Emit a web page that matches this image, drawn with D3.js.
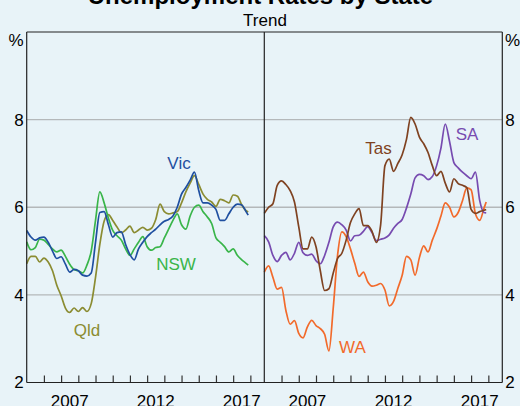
<!DOCTYPE html>
<html>
<head>
<meta charset="utf-8">
<script src="https://cdn.jsdelivr.net/npm/d3@7"></script>
<style>
  html, body { margin: 0; padding: 0; background: #e8f3f8; }
  svg { display: block; font-family: Arial, "Liberation Sans", sans-serif; }
</style>
</head>
<body>
<svg id="chart" width="520" height="406"></svg>
<script>
// quarterly observations (decimal years), trend unemployment rate, %
const dates = [
  2005.0, 2005.25, 2005.5, 2005.75, 2006.0, 2006.25, 2006.5, 2006.75,
  2007.0, 2007.25, 2007.5, 2007.75, 2008.0, 2008.25, 2008.5, 2008.75,
  2009.0, 2009.25, 2009.5, 2009.75, 2010.0, 2010.25, 2010.5, 2010.75,
  2011.0, 2011.25, 2011.5, 2011.75, 2012.0, 2012.25, 2012.5, 2012.75,
  2013.0, 2013.25, 2013.5, 2013.75, 2014.0, 2014.25, 2014.5, 2014.75,
  2015.0, 2015.25, 2015.5, 2015.75, 2016.0, 2016.25, 2016.5, 2016.75,
  2017.0, 2017.25, 2017.5, 2017.75, 2017.875
];

// left panel
const nsw = [5.21, 5.03, 5.08, 5.27, 5.25, 5.15, 5.05, 4.98, 5.02, 4.88, 4.7, 4.58, 4.55, 4.5, 4.68, 5.0,
  5.7, 6.35, 6.1, 5.75, 5.47, 5.35, 5.25, 5.05, 4.9, 5.05, 5.2, 5.33, 5.1, 5.02, 5.08, 5.1,
  5.3, 5.5, 5.7, 5.85, 5.6, 5.5, 5.8, 6.0, 6.05, 5.9, 5.78, 5.63, 5.3, 5.2, 5.1, 4.98,
  5.05, 4.9, 4.8, 4.72, 4.68];
const vic = [5.47, 5.32, 5.25, 5.3, 5.32, 5.2, 5.0, 4.83, 4.87, 4.7, 4.52, 4.58, 4.55, 4.45, 4.43, 4.5,
  5.2, 5.88, 5.9, 5.6, 5.32, 5.42, 5.44, 5.15, 4.92, 4.8, 5.05, 5.2, 5.33, 5.42, 5.5, 5.6,
  5.68, 5.72, 5.8, 6.0, 6.3, 6.45, 6.62, 6.8, 6.38, 6.1, 6.1, 6.05, 5.95, 5.7, 5.7, 5.85,
  6.0, 6.07, 6.05, 5.9, 5.82];
const qld = [4.71, 4.88, 4.88, 4.75, 4.84, 4.75, 4.55, 4.22, 3.98, 3.7, 3.6, 3.7, 3.62, 3.71, 3.62, 3.8,
  4.4, 5.15, 5.68, 5.83, 5.7, 5.55, 5.42, 5.48, 5.57, 5.42, 5.48, 5.54, 5.48, 5.52, 5.72, 6.07,
  5.9, 5.85, 5.87, 5.9, 6.1, 6.35, 6.55, 6.72, 6.52, 6.3, 6.18, 6.12, 6.02, 6.18, 6.15, 6.1,
  6.28, 6.25, 6.05, 5.92, 5.89];

// right panel
const tas = [5.86, 6.0, 6.08, 6.5, 6.6, 6.52, 6.38, 6.12, 5.55, 5.05, 5.05, 5.32, 5.1, 4.55, 4.1, 4.14,
  4.5, 4.83, 4.95, 5.25, 5.65, 5.85, 5.97, 5.58, 5.58, 5.45, 5.2, 5.6, 6.95, 7.1, 6.82, 7.0,
  7.2, 7.55, 8.05, 7.9, 7.6, 7.45, 7.25, 6.95, 6.72, 6.82, 6.55, 6.35, 6.65, 6.54, 6.5, 6.45,
  5.95, 5.86, 5.9, 5.93, 5.95];
const sa = [5.35, 5.21, 4.9, 4.76, 4.9, 4.97, 4.8, 4.95, 5.2, 4.96, 4.9, 4.93, 4.78, 4.71, 4.9, 5.2,
  5.55, 5.66, 5.6, 5.48, 5.23, 5.35, 5.36, 5.45, 5.56, 5.42, 5.24, 5.27, 5.3, 5.37, 5.52, 5.63,
  5.72, 5.98, 6.3, 6.67, 6.75, 6.72, 6.63, 6.7, 6.95, 7.35, 7.9, 7.5, 7.02, 6.9, 6.8, 6.72,
  6.65, 6.8, 6.15, 5.88, 5.87];
const wa = [4.52, 4.66, 4.4, 4.13, 4.17, 3.65, 3.33, 3.41, 3.12, 3.02, 3.27, 3.42, 3.3, 3.23, 3.1, 2.72,
  3.7, 4.9, 5.44, 5.33, 5.05, 4.72, 4.42, 4.52, 4.3, 4.2, 4.22, 4.26, 4.11, 3.75, 3.85, 4.15,
  4.45, 4.88, 4.8, 4.45, 4.85, 5.12, 4.98, 5.25, 5.5, 5.8, 6.1, 6.0, 5.78, 5.88, 6.15, 6.44,
  6.4, 5.85, 5.7, 5.98, 6.12];

const yTicks = [2, 4, 6, 8];
const yearTicks = [2006, 2007, 2008, 2009, 2010, 2011, 2012, 2013, 2014, 2015, 2016, 2017, 2018];
const yearLabels = [2007, 2012, 2017];

const panels = [
  { left: 26.7, right: 264.3, series: [
    { name: 'Qld', values: qld, color: '#8b8c32', lx: 87, ly: 336 },
    { name: 'NSW', values: nsw, color: '#39b54a', lx: 176, ly: 270 },
    { name: 'Vic', values: vic, color: '#1f4fa0', lx: 179, ly: 169 }
  ]},
  { left: 264.3, right: 502.3, series: [
    { name: 'WA', values: wa, color: '#f26a2b', lx: 352.5, ly: 353 },
    { name: 'SA', values: sa, color: '#774bb0', lx: 467, ly: 140 },
    { name: 'Tas', values: tas, color: '#7f4221', lx: 378.5, ly: 154 }
  ]}
];

const TOP = 32, BOTTOM = 382.5;
const svg = d3.select('#chart');
const y = d3.scaleLinear().domain([2, 10]).range([BOTTOM, TOP]);

// Title (clipped at top as in the original)
svg.append('text')
  .attr('x', 260.5).attr('y', 4)
  .attr('text-anchor', 'middle')
  .attr('font-size', '24px').attr('font-weight', 'bold')
  .attr('fill', '#000')
  .text('Unemployment Rates by State');

svg.append('text')
  .attr('x', 265).attr('y', 26)
  .attr('text-anchor', 'middle')
  .attr('font-size', '17px')
  .text('Trend');

// Gridlines across both panels
svg.append('g')
  .selectAll('line')
  .data([4, 6, 8])
  .join('line')
  .attr('x1', 26.7).attr('x2', 502.3)
  .attr('y1', d => y(d)).attr('y2', d => y(d))
  .attr('stroke', '#b4b8ba').attr('stroke-width', 1.3);

panels.forEach(p => {
  const x = d3.scaleLinear().domain([2005, 2018.81]).range([p.left, p.right]);

  // year ticks pointing up from the axis
  const xAxis = d3.axisBottom(x).tickValues(yearTicks).tickSize(-7).tickFormat('');
  const gx = svg.append('g').attr('transform', `translate(0,${BOTTOM})`).call(xAxis);
  gx.select('.domain').remove();
  gx.selectAll('.tick line').attr('stroke', '#333').attr('stroke-width', 1.2);

  svg.append('g')
    .selectAll('text')
    .data(yearLabels)
    .join('text')
    .attr('x', d => x(d + 0.5))
    .attr('y', 407)
    .attr('text-anchor', 'middle')
    .attr('font-size', '17px')
    .text(d => d);

  const line = d3.line()
    .x((d, i) => x(dates[i]))
    .y(d => y(d))
    .curve(d3.curveMonotoneX);

  p.series.forEach(s => {
    svg.append('path')
      .datum(s.values)
      .attr('fill', 'none')
      .attr('stroke', s.color)
      .attr('stroke-width', 1.7)
      .attr('d', line);
    svg.append('text')
      .attr('x', s.lx).attr('y', s.ly)
      .attr('text-anchor', 'middle')
      .attr('font-size', '17px')
      .attr('fill', s.color)
      .text(s.name);
  });
});

// Frame: top, sides, divider, bottom axis
const frame = svg.append('g').attr('stroke', '#222').attr('stroke-width', 1.2);
frame.append('line').attr('x1', 26.7).attr('x2', 502.3).attr('y1', TOP).attr('y2', TOP);
frame.append('line').attr('x1', 26.7).attr('x2', 502.3).attr('y1', BOTTOM).attr('y2', BOTTOM);
[26.7, 264.3, 502.3].forEach(xx => {
  frame.append('line').attr('x1', xx).attr('x2', xx).attr('y1', TOP).attr('y2', BOTTOM);
});

// Y axis labels on both sides
const yLeft = d3.axisLeft(y).tickValues(yTicks).tickSize(0).tickPadding(3);
const gl = svg.append('g').attr('transform', 'translate(26.7,0)').call(yLeft);
const yRight = d3.axisRight(y).tickValues(yTicks).tickSize(0).tickPadding(3);
const gr = svg.append('g').attr('transform', 'translate(502.3,0)').call(yRight);
[gl, gr].forEach(g => {
  g.select('.domain').remove();
  g.selectAll('text').attr('font-size', '17px').attr('font-family', null).attr('fill', '#000');
});

svg.append('text').attr('x', 23.5).attr('y', 46).attr('text-anchor', 'end')
  .attr('font-size', '17px').text('%');
svg.append('text').attr('x', 505).attr('y', 46).attr('text-anchor', 'start')
  .attr('font-size', '17px').text('%');
</script>
</body>
</html>
